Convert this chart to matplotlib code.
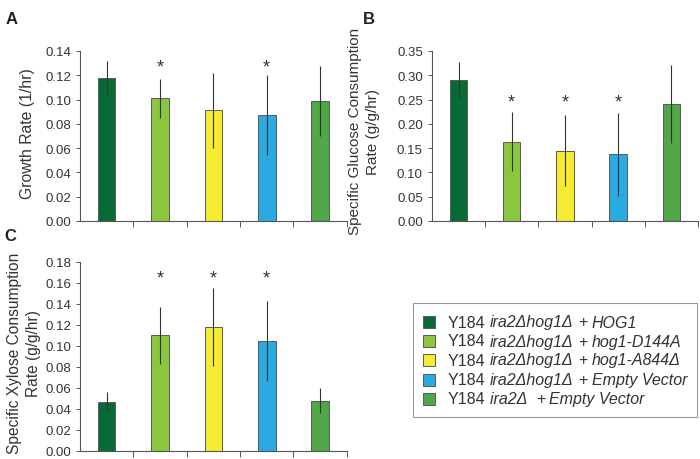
import matplotlib.pyplot as plt
from matplotlib.patches import Rectangle

plt.rcParams['font.family'] = 'Liberation Sans'

strains = ['HOG1', 'hog1-D144A', 'hog1-A844D', 'EV', 'ira2 EV']
colors = ['#066b35', '#8cc63e', '#f6eb31', '#29aae1', '#4fa847']

growth = [0.118, 0.101, 0.091, 0.087, 0.099]
growth_err = [0.014, 0.016, 0.031, 0.033, 0.029]
growth_sig = [False, True, False, True, False]

glucose = [0.290, 0.163, 0.145, 0.137, 0.241]
glucose_err = [0.037, 0.061, 0.073, 0.085, 0.080]
glucose_sig = [False, True, True, True, False]

xylose = [0.047, 0.110, 0.118, 0.105, 0.048]
xylose_err = [0.009, 0.027, 0.037, 0.038, 0.012]
xylose_sig = [False, True, True, True, False]

# legend pieces: (text, italic)
legend_rows = [
    [('Y184', False), ('ira2\u0394hog1\u0394', True), ('+', False), ('HOG1', True)],
    [('Y184', False), ('ira2\u0394hog1\u0394', True), ('+', False), ('hog1-D144A', True)],
    [('Y184', False), ('ira2\u0394hog1\u0394', True), ('+', False), ('hog1-A844\u0394', True)],
    [('Y184', False), ('ira2\u0394hog1\u0394', True), ('+', False), ('Empty Vector', True)],
    [('Y184', False), ('ira2\u0394 ', True), ('+', False), ('Empty Vector', True)],
]


def draw_panel(ax, values, errs, sig, ymax, ystep, fmt, star_y, ylabel, label_size, label_xy):
    x = range(len(values))
    ax.bar(x, values, width=0.33, color=colors, edgecolor='#5a5a5a', linewidth=0.7, zorder=2)
    ax.errorbar(x, values, yerr=errs, fmt='none', ecolor='#333333', elinewidth=0.8, capsize=0, zorder=3)
    for i, s in enumerate(sig):
        if s:
            ax.text(i, star_y, '*', ha='center', va='center', fontsize=13, color='#333333')
    ax.set_xlim(-0.5, 4.5)
    ax.set_ylim(0, ymax)
    n = int(round(ymax / ystep))
    ticks = [i * ystep for i in range(n + 1)]
    ax.set_yticks(ticks)
    ax.set_yticklabels([fmt.format(t) for t in ticks])
    ax.set_xticks([0.5, 1.5, 2.5, 3.5, 4.5])
    ax.set_xticklabels([])
    ax.tick_params(axis='both', colors='#555555', labelcolor='#333333', labelsize=9.5, length=3, width=0.7)
    ax.tick_params(axis='x', length=4)
    for side in ['top', 'right']:
        ax.spines[side].set_visible(False)
    for side in ['left', 'bottom']:
        ax.spines[side].set_color('#555555')
        ax.spines[side].set_linewidth(0.8)
    ax.set_ylabel(ylabel, fontsize=label_size, color='#333333', linespacing=1.4)
    ax.yaxis.set_label_coords(*label_xy)


fig = plt.figure(figsize=(7, 4.6), dpi=100)
ax_a = fig.add_axes([0.1143, 0.5174, 0.381, 0.3696])
ax_b = fig.add_axes([0.617, 0.5174, 0.38, 0.3696])
ax_c = fig.add_axes([0.1143, 0.0174, 0.381, 0.411])

draw_panel(ax_a, growth, growth_err, growth_sig, 0.14, 0.02, '{:.2f}', 0.127,
           'Growth Rate (1/hr)', 11.3, (-0.17, 0.52))
draw_panel(ax_b, glucose, glucose_err, glucose_sig, 0.35, 0.05, '{:.2f}', 0.245,
           'Specific Glucose Consumption\nRate (g/g/hr)', 11.0, (-0.195, 0.53))
draw_panel(ax_c, xylose, xylose_err, xylose_sig, 0.18, 0.02, '{:.2f}', 0.165,
           'Specific Xylose Consumption\nRate (g/g/hr)', 11.2, (-0.145, 0.52))

fig.text(0.008, 0.975, 'A', fontsize=12, fontweight='bold', va='top', color='#222222')
fig.text(0.518, 0.975, 'B', fontsize=12, fontweight='bold', va='top', color='#222222')
fig.text(0.006, 0.503, 'C', fontsize=12, fontweight='bold', va='top', color='#222222')


# hand-built legend so that only the strain names are italic
def px(x, y):
    return x / 700, 1 - y / 460


x0, y0 = px(413, 418)
x1, y1 = px(697, 304)
fig.patches.append(Rectangle((x0, y0), x1 - x0, y1 - y0, transform=fig.transFigure,
                             facecolor='white', edgecolor='#999999', linewidth=0.8))
row_y = [323, 342, 361, 381, 400]
for color, ry, pieces in zip(colors, row_y, legend_rows):
    hx, hy = px(423, ry + 6)
    fig.patches.append(Rectangle((hx, hy), 12 / 700, 12 / 460, transform=fig.transFigure,
                                 facecolor=color, edgecolor='#5a5a5a', linewidth=0.7))
    tx, ty = px(448, ry)
    prev = fig.text(tx, ty, pieces[0][0], fontsize=11.5, color='#333333', va='center', ha='left')
    for text, italic in pieces[1:]:
        prev = fig.add_artist(plt.Annotation(
            text, xy=(1, 0), xycoords=prev, xytext=(3.2, 0), textcoords='offset points',
            va='bottom', ha='left', fontsize=11.5, color='#333333',
            style='italic' if italic else 'normal'))

fig.savefig('out.png', dpi=100)
